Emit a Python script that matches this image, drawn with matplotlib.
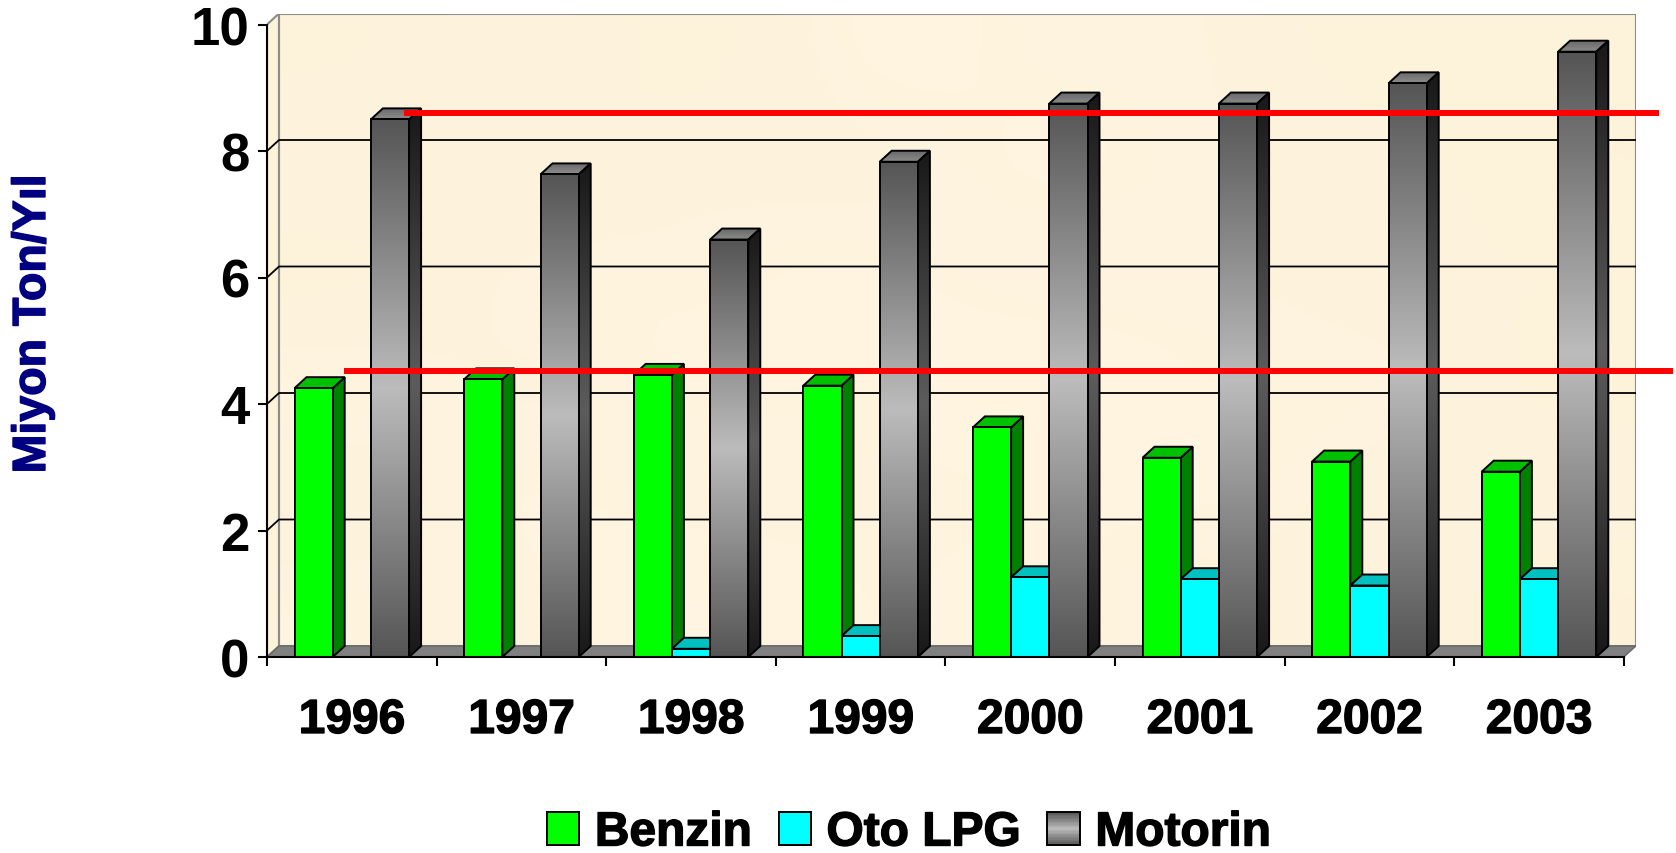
import numpy as np
import matplotlib
matplotlib.use('Agg')
import matplotlib.pyplot as plt
import matplotlib.patheffects as pe
from matplotlib.colors import LinearSegmentedColormap
from matplotlib.legend_handler import HandlerBase
from matplotlib.patches import Patch, Polygon, Rectangle

plt.rcParams['font.family'] = ['Liberation Sans', 'DejaVu Sans']
plt.rcParams['font.weight'] = 'bold'

years = ['1996', '1997', '1998', '1999', '2000', '2001', '2002', '2003']
benzin = [4.25, 4.39, 4.46, 4.29, 3.63, 3.15, 3.09, 2.93]
oto_lpg = [0, 0, 0.13, 0.33, 1.26, 1.23, 1.13, 1.23]
motorin = [8.50, 7.63, 6.60, 7.83, 8.75, 8.75, 9.07, 9.57]
red_levels = [8.6, 4.52]

# hand read tone of the wall paper, 0 light .. 1 yellowish
wall_tone = [[0.5, 0.3, 0.6, 0.2, 0.4, 0.3, 0.6, 0.5],
             [0.3, 0.6, 0.3, 0.5, 0.2, 0.4, 0.3, 0.6],
             [0.6, 0.2, 0.4, 0.2, 0.5, 0.3, 0.5, 0.4],
             [0.2, 0.5, 0.2, 0.4, 0.1, 0.4, 0.2, 0.6],
             [0.5, 0.2, 0.5, 0.3, 0.4, 0.2, 0.5, 0.3],
             [0.3, 0.4, 0.1, 0.4, 0.2, 0.5, 0.3, 0.6]]

W, H = 1676, 854
x0, x1, y0, y1 = 267, 1636, 658, 15   # pixels of the axes box
px_x = 169.6      # pixels for one year
px_y = 63.25      # pixels for one unit of y
dx = 12 / px_x    # depth of the fake 3d
dy = 11 / px_y
bw = 38.2 / px_x
edge = 1.4

fig = plt.figure(figsize=(W / 100, H / 100), dpi=100)
ax = fig.add_axes([x0 / W, 1 - y0 / H, (x1 - x0) / W, (y0 - y1) / H])
ax.set_facecolor('none')
n = len(years)
outline = [pe.withStroke(linewidth=1.0, foreground='black')]

# walls
wall_cm = LinearSegmentedColormap.from_list('w', ['#fff6e6', '#fcf0d0'])
ax.imshow(wall_tone, extent=(dx, n + dx, dy, 10 + dy), cmap=wall_cm, vmin=0, vmax=1, aspect='auto',
          interpolation='bicubic', zorder=0.5)
ax.add_patch(Polygon([(0, 0), (dx, dy), (dx, 10 + dy), (0, 10)], fc='#fdf3d8', ec='#8c8c8c', lw=1.5, zorder=1))
ax.add_patch(Rectangle((dx, dy), n, 10, fc='none', ec='#8c8c8c', lw=1.5, zorder=1))
ax.add_patch(Polygon([(0, 0), (dx, dy), (n + dx, dy), (n, 0)], fc='#808080', ec='#666666', lw=1, zorder=1.5))

for v in range(2, 10, 2):
    ax.plot([0, dx, n + dx], [v, v + dy, v + dy], color='black', lw=1.3, zorder=2)

green = dict(front='#00ff00', side='#008000', top='#00c000')
cyan = dict(front='#00ffff', side='#00a8a8', top='#00c0c0')

front_cm = LinearSegmentedColormap.from_list('f', ['#555555', '#bcbcbc', '#555555'])
side_cm = LinearSegmentedColormap.from_list('s', ['#181818', '#5c5c5c', '#181818'])
top_cm = LinearSegmentedColormap.from_list('t', ['#6a6a6a', '#8c8c8c'])
grad = np.linspace(0, 1, 256).reshape(-1, 1)


def flat_bar(x, h, c, z):
    ax.add_patch(Polygon([(x + bw, 0), (x + bw + dx, dy), (x + bw + dx, h + dy), (x + bw, h)],
                         fc=c['side'], ec='black', lw=edge, zorder=z))
    ax.add_patch(Polygon([(x, h), (x + dx, h + dy), (x + bw + dx, h + dy), (x + bw, h)],
                         fc=c['top'], ec='black', lw=edge, zorder=z))
    ax.add_patch(Rectangle((x, 0), bw, h, fc=c['front'], ec='black', lw=edge, zorder=z + 0.1))


def grad_bar(x, h, z):
    side = Polygon([(x + bw, 0), (x + bw + dx, dy), (x + bw + dx, h + dy), (x + bw, h)],
                   fc='none', ec='black', lw=edge, zorder=z + 0.05)
    top = Polygon([(x, h), (x + dx, h + dy), (x + bw + dx, h + dy), (x + bw, h)],
                  fc='none', ec='black', lw=edge, zorder=z + 0.05)
    front = Rectangle((x, 0), bw, h, fc='none', ec='black', lw=edge, zorder=z + 0.2)
    for p in (side, top, front):
        ax.add_patch(p)
    im = ax.imshow(grad, extent=(x + bw, x + bw + dx, 0, h + dy), cmap=side_cm, aspect='auto', zorder=z)
    im.set_clip_path(side)
    im = ax.imshow(grad, extent=(x, x + bw + dx, h, h + dy), cmap=top_cm, aspect='auto', zorder=z)
    im.set_clip_path(top)
    ax.imshow(grad, extent=(x, x + bw, 0, h), cmap=front_cm, aspect='auto', zorder=z + 0.1)


for i in range(n):
    left = i + 0.5 - 1.5 * bw
    z = 3 + i
    flat_bar(left, benzin[i], green, z)
    if oto_lpg[i] > 0:
        flat_bar(left + bw, oto_lpg[i], cyan, z + 0.3)
    grad_bar(left + 2 * bw, motorin[i], z + 0.6)

# red lines go out of the box on the right
ax.plot([0.808, 8.208], [red_levels[0]] * 2, color='#ff0000', lw=4.3, solid_capstyle='butt', clip_on=False, zorder=20)
ax.plot([0.454, 8.29], [red_levels[1]] * 2, color='#ff0000', lw=4.3, solid_capstyle='butt', clip_on=False, zorder=20)

ax.set_xlim(0, (x1 - x0) / px_x)
ax.set_ylim(0, (y0 - y1) / px_y)

for s in ['top', 'right']:
    ax.spines[s].set_visible(False)
ax.spines['left'].set_bounds(0, 10)
ax.spines['bottom'].set_bounds(0, n)
ax.spines['left'].set_linewidth(1.5)
ax.spines['bottom'].set_linewidth(1.5)
ax.spines['left'].set_zorder(30)
ax.spines['bottom'].set_zorder(30)

ax.set_yticks(range(0, 11, 2))
ax.tick_params(axis='y', length=6.5, width=1.5, pad=6, labelsize=38)
ax.set_xticks(range(n + 1))
ax.set_xticklabels([])
ax.tick_params(axis='x', which='major', length=6.5, width=1.5)
ax.set_xticks(np.arange(n) + 0.5, minor=True)
ax.set_xticklabels(years, minor=True)
ax.tick_params(axis='x', which='minor', length=0, pad=29.5, labelsize=34.5)
for t in ax.get_xticklabels(minor=True):
    t.set_path_effects(outline)

fig.text(33 / W, 1 - 325 / H, 'Miyon Ton/Y\u0131l', rotation=90, color='#000080', fontsize=33.5,
         ha='center', va='center', path_effects=[pe.withStroke(linewidth=1.0, foreground='#000080')])


class GradHandler(HandlerBase):
    def create_artists(self, legend, orig, xd, yd, width, height, fontsize, trans):
        parts = []
        steps = 24
        for k in range(steps):
            g = front_cm((k + 0.5) / steps)
            parts.append(Rectangle((-xd, -yd + height * k / steps), width, height / steps + 0.3,
                                   fc=g, ec='none', transform=trans))
        parts.append(Rectangle((-xd, -yd), width, height, fc='none', ec='black', lw=edge, transform=trans))
        return parts


handles = [Patch(fc='#00ff00', ec='black', lw=edge), Patch(fc='#00ffff', ec='black', lw=edge), Patch(label='Motorin')]
leg = fig.legend(handles, ['Benzin', 'Oto LPG', 'Motorin'], ncol=3, loc='center', bbox_to_anchor=(909 / W, 1 - 834 / H),
                 frameon=False, fontsize=34.5, handlelength=0.67, handleheight=0.67, handletextpad=0.33,
                 columnspacing=0.56, borderpad=0, handler_map={handles[2]: GradHandler()})
for t in leg.get_texts():
    t.set_path_effects(outline)

fig.savefig('out.png', dpi=100)
